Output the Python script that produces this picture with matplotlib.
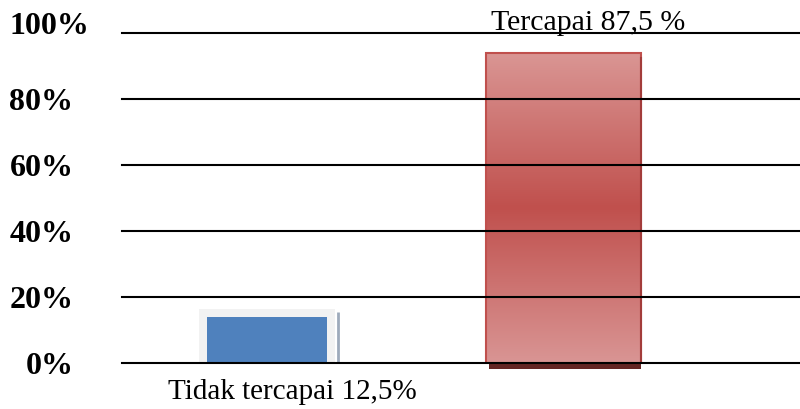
import matplotlib.pyplot as plt
import matplotlib.transforms as mtransforms
import numpy as np
from matplotlib.colors import LinearSegmentedColormap
from matplotlib.patches import Rectangle

# data
categories = ['Tidak tercapai 12,5%', 'Tercapai 87,5 %']
heights = [14, 94]          # bar heights as drawn (percent)
yticks = [0, 20, 40, 60, 80, 100]
ytick_labels = ['0%', '20%', '40%', '60%', '80%', '100%']

plt.rcParams['font.family'] = ['Liberation Serif', 'DejaVu Serif']

fig = plt.figure(figsize=(8, 4.09), dpi=100)
ax = fig.add_axes([0.1525, 0.1125, 0.8475, 0.8068])
ax.set_xlim(-0.489, 1.798)
ax.set_ylim(0, 100)

x = np.arange(len(categories))
widths = [0.405, 0.523]

# blue bar with light frame behind it
ax.bar(x[0], heights[0] + 2.4, width=0.46, color='#f2f2f2', zorder=1)
ax.bar(x[0], heights[0], width=widths[0], color='#4f81bd', zorder=2)
ax.plot([x[0] + 0.238, x[0] + 0.238], [0, heights[0] + 1.5],
        color='#9eaabb', lw=2, zorder=2, solid_capstyle='butt')

# red bar with vertical gradient (light - dark - light)
x0 = x[1] - widths[1] / 2
x1 = x[1] + widths[1] / 2
cmap = LinearSegmentedColormap.from_list(
    'red_grad', [(0, '#d99594'), (0.5, '#c0504d'), (1, '#da9694')])
grad = np.linspace(0, 1, 256).reshape(-1, 1)
img = ax.imshow(grad, cmap=cmap, aspect='auto', origin='lower',
                extent=[x0, x1, 0, heights[1]], zorder=2)
rect = Rectangle((x0, 0), widths[1], heights[1], facecolor='none',
                 edgecolor='#c0504d', lw=1.5, zorder=3)
ax.add_patch(rect)
img.set_clip_path(rect)
ax.plot([x1, x1], [0, heights[1] - 1.5], color='#a33c3a', lw=1.5, zorder=3)
# dark shadow under the red bar
ax.add_patch(Rectangle((x0 + 0.01, -1.9), widths[1] - 0.01, 1.9,
                       facecolor='#632523', edgecolor='none', zorder=2,
                       clip_on=False))

# gridlines drawn over the bars
for v in yticks:
    ax.axhline(v, color='black', lw=1.5, zorder=4, clip_on=False)

ax.set_yticks(yticks)
ax.set_yticklabels(ytick_labels, fontsize=23, fontweight='bold')
ax.tick_params(axis='y', length=0, pad=35)
ax.set_xticks([])
for s in ax.spines.values():
    s.set_visible(False)

# the top label sits higher and further right in the original
top_lbl = ax.get_yticklabels()[-1]
top_lbl.set_transform(top_lbl.get_transform() +
                      mtransforms.ScaledTranslation(16 / 100, 10 / 100,
                                                    fig.dpi_scale_trans))

# category labels
ax.annotate(categories[0], (x[0], 0), xytext=(25, -29),
            textcoords='offset pixels', ha='center', va='center',
            fontsize=21, annotation_clip=False)
ax.annotate(categories[1], (x[1], 100), xytext=(25, 10),
            textcoords='offset pixels', ha='center', va='center',
            fontsize=21.5, annotation_clip=False)

fig.savefig('out.png', dpi=100)
